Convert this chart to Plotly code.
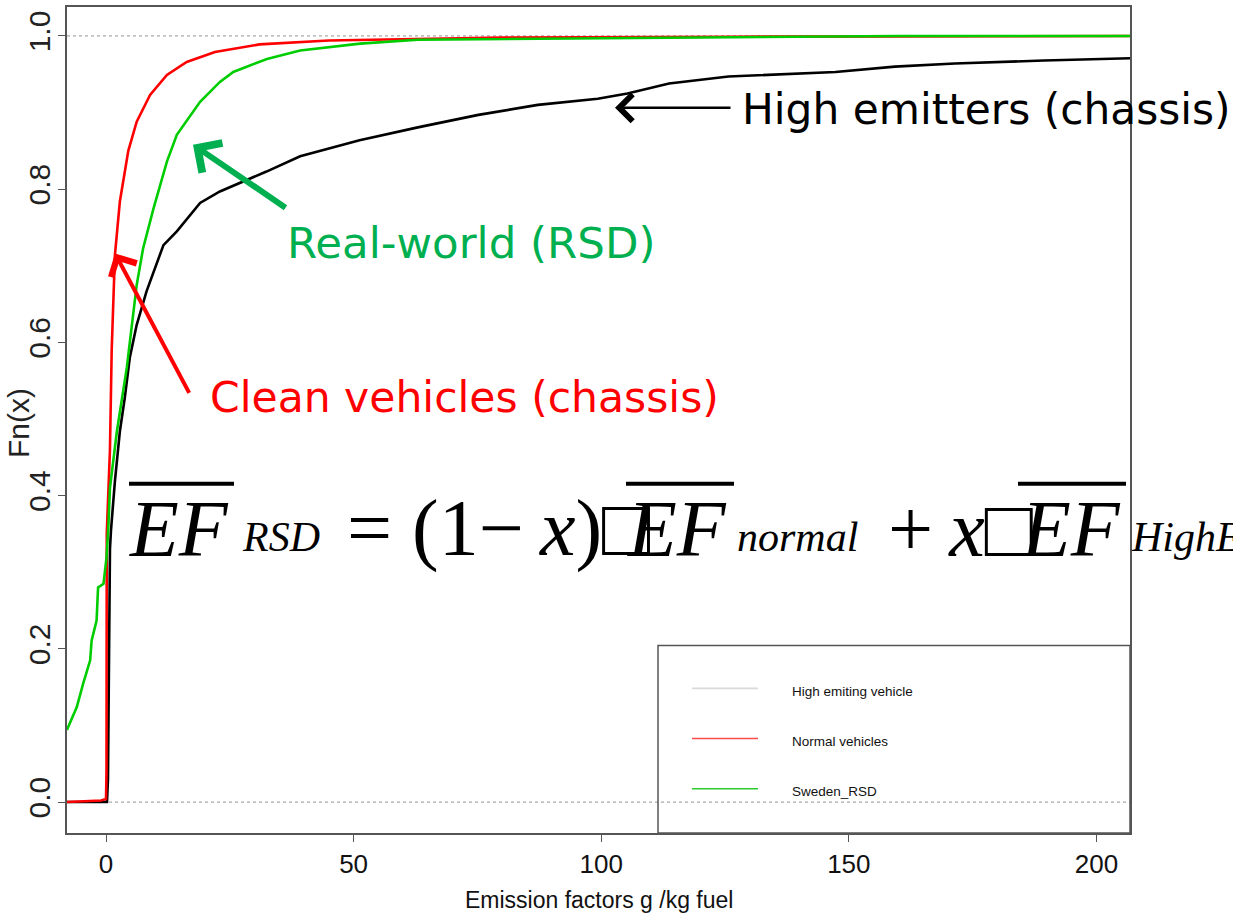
import plotly.graph_objects as go

# ---------------- data ----------------
high_x = [-8, 0.2, 0.4, 0.6, 0.8, 1.0, 1.8, 2.8, 3.8, 4.8, 6.2, 8.2, 11.6, 14.3, 19, 23, 27,
          32.4, 39.2, 51.2, 63.2, 75.2, 87.2, 99.3, 105.3, 113.7, 125.7, 147.3, 159.3,
          171.4, 189.4, 208]
high_y = [0, 0, 0.03, 0.2, 0.33, 0.354, 0.419, 0.484, 0.528, 0.58, 0.623, 0.667, 0.727,
          0.745, 0.782, 0.797, 0.808, 0.823, 0.843, 0.864, 0.881, 0.897, 0.91, 0.918,
          0.925, 0.938, 0.947, 0.953, 0.96, 0.964, 0.968, 0.971]

normal_x = [-8, -1, 0, 0.1, 0.15, 0.8, 1.15, 1.8, 2.8, 3.5, 4.5, 6.2, 8.9, 12.3, 16.3, 22,
            31, 45, 60, 80, 125, 208]
normal_y = [0, 0.002, 0.004, 0.04, 0.35, 0.46, 0.59, 0.714, 0.784, 0.81, 0.85, 0.888,
            0.923, 0.949, 0.966, 0.979, 0.989, 0.994, 0.996, 0.998, 0.999, 1.0]

rsd_x = [-7.9, -5.9, -4.6, -3.2, -2.9, -1.9, -1.6, -0.5, 0.1, 0.47, 0.8, 2.2, 4.2, 5.2, 6.2,
         7.5, 9.6, 12.3, 14.3, 19, 23, 25.7, 32.5, 39.2, 51.3, 63, 80, 123, 160, 208]
rsd_y = [0.094, 0.124, 0.155, 0.185, 0.211, 0.237, 0.28, 0.285, 0.319, 0.358, 0.41, 0.484,
         0.567, 0.623, 0.675, 0.723, 0.775, 0.836, 0.871, 0.914, 0.94, 0.953, 0.97, 0.981,
         0.99, 0.995, 0.996, 0.998, 1.0, 1.0]

x_ticks = [0, 50, 100, 150, 200]
y_ticks = [0.0, 0.2, 0.4, 0.6, 0.8, 1.0]
y_tick_text = ["0.0", "0.2", "0.4", "0.6", "0.8", "1.0"]
ref_levels = [0, 1]

series_names = ["High emiting vehicle", "Normal vehicles", "Sweden_RSD"]
series_colors = ["#000000", "#FF0000", "#00CD00"]
legend_colors = ["#d9d9d9", "#ff4a4a", "#2ccc2c"]

# ---------------- geometry helpers ----------------
W, H = 1233, 918
L, R, T, B = 67, 1130, 5, 833


def pxx(v):
    return (v - L) / (R - L)


def pxy(v):
    return (B - v) / (B - T)


fig = go.Figure()
for xs, ys, name, col in zip([high_x, normal_x, rsd_x], [high_y, normal_y, rsd_y],
                             series_names, series_colors):
    fig.add_trace(go.Scatter(x=xs, y=ys, mode="lines", name=name,
                             line=dict(color=col, width=2.6), showlegend=False))

sans = "Liberation Sans, Arial, sans-serif"
narrow = "Liberation Sans Narrow, Arial Narrow, Liberation Sans, sans-serif"
serif = "Liberation Serif, Times New Roman, DejaVu Serif, serif"
ann_font = "DejaVu Sans, Verdana, sans-serif"

fig.update_xaxes(range=[-7.876, 206.78], tickvals=x_ticks, ticks="outside", ticklen=7,
                 tickcolor="#555", tickwidth=1.3, showgrid=False, zeroline=False,
                 showline=True, mirror=True, linecolor="#555", linewidth=1.6,
                 tickfont=dict(family=narrow, size=26, color="#111"))
fig.update_yaxes(range=[-0.0404, 1.0378], tickvals=y_ticks, ticktext=y_tick_text,
                 ticks="outside", ticklen=7, tickcolor="#555", tickwidth=1.3,
                 showgrid=False, zeroline=False, showline=True, mirror=True,
                 linecolor="#555", linewidth=1.6, tickangle=-90, ticklabelstandoff=-4,
                 tickfont=dict(family=sans, size=30, color="#222"))

anns = []
shapes = []

for lv in ref_levels:
    shapes.append(dict(type="line", xref="paper", yref="y", x0=0, x1=1, y0=lv, y1=lv,
                       line=dict(color="#aaaaaa", width=1.3, dash="dot"), layer="below"))

# axis titles
anns.append(dict(text="Emission factors g /kg fuel", x=pxx(599), y=pxy(900), xref="paper",
                 yref="paper", showarrow=False, xanchor="center", yanchor="middle",
                 font=dict(family=narrow, size=23, color="#111")))
anns.append(dict(text="Fn(x)", x=pxx(19), y=pxy(422), xref="paper", yref="paper",
                 showarrow=False, textangle=-90, xanchor="center", yanchor="middle",
                 font=dict(family=sans, size=30, color="#222")))

# overlay labels
anns.append(dict(text="High emitters (chassis)", x=pxx(740), y=pxy(108), xref="paper",
                 yref="paper", showarrow=False, xanchor="left", yanchor="middle",
                 font=dict(family=ann_font, size=42.3, color="#000")))
anns.append(dict(text="Real-world (RSD)", x=pxx(285), y=pxy(242), xref="paper",
                 yref="paper", showarrow=False, xanchor="left", yanchor="middle",
                 font=dict(family=ann_font, size=43.5, color="#00B050")))
anns.append(dict(text="Clean vehicles (chassis)", x=pxx(208), y=pxy(396), xref="paper",
                 yref="paper", showarrow=False, xanchor="left", yanchor="middle",
                 font=dict(family=ann_font, size=42.5, color="#FF0000")))

# arrows (tail offsets in pixels)
for (hx, hy, tx, ty, col, wid, size) in [(615, 106, 732, 106, "#000", 2.6, 2.0),
                                          (193, 143, 287, 207, "#00B050", 6, 1.15),
                                          (115, 252, 190, 393, "#FF0000", 4, 1.4)]:
    anns.append(dict(text="", x=pxx(hx), y=pxy(hy), xref="paper", yref="paper",
                     ax=tx - hx, ay=ty - hy, axref="pixel", ayref="pixel",
                     showarrow=True, arrowhead=4, arrowwidth=wid, arrowsize=size,
                     arrowcolor=col, standoff=0, startstandoff=0))

# equation
big, small = 80, 42
eq_center_big = 528
eq_center_small = 536
pieces = [("<i>EF</i>", 127, big), ("<i>RSD</i>", 240, small),
          ("= (1−\u2009<i>x</i>)□", 345, big), ("<i>EF</i>", 625, big),
          ("<i>normal</i>", 735, small), ("+\u2009<i>x</i>□", 886, big),
          ("<i>EF</i>", 1019, big), ("<i>HighEmitter</i>", 1129, small)]
for txt, xl, sz in pieces:
    anns.append(dict(text=txt, x=pxx(xl), y=pxy(eq_center_big if sz == big else eq_center_small),
                     xref="paper", yref="paper", showarrow=False, xanchor="left",
                     yanchor="middle", font=dict(family=serif, size=sz, color="#000")))
for x0, x1 in [(129, 234), (626, 734), (1018, 1126)]:
    shapes.append(dict(type="line", xref="paper", yref="paper", x0=pxx(x0), x1=pxx(x1),
                       y0=pxy(483), y1=pxy(483), line=dict(color="#000", width=4)))

# legend box
shapes.append(dict(type="rect", xref="paper", yref="paper", x0=pxx(658), x1=pxx(1130),
                   y0=pxy(833), y1=pxy(645), line=dict(color="#555", width=1.5)))
for i, (nm, col) in enumerate(zip(series_names, legend_colors)):
    yy = 688 + 50.3 * i
    shapes.append(dict(type="line", xref="paper", yref="paper", x0=pxx(692), x1=pxx(758),
                       y0=pxy(yy), y1=pxy(yy), line=dict(color=col, width=1.6)))
    anns.append(dict(text=nm, x=pxx(790), y=pxy(yy + 3), xref="paper", yref="paper",
                     showarrow=False, xanchor="left", yanchor="middle",
                     font=dict(family=narrow, size=13.5, color="#111")))

fig.update_layout(width=W, height=H, margin=dict(l=L, r=W - R, t=T, b=H - B),
                  plot_bgcolor="white", paper_bgcolor="white",
                  annotations=anns, shapes=shapes, showlegend=False)

fig.write_html("out.html", config={"displayModeBar": False},
               post_script="document.body.style.margin='0';document.body.style.padding='0';")
